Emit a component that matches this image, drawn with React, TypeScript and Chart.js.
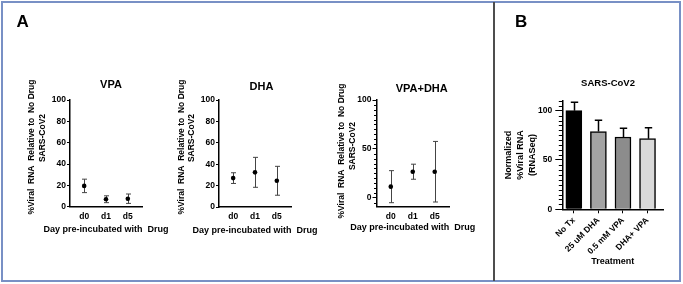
import React, { useEffect, useRef } from 'react';
import { Chart, registerables } from 'chart.js';

Chart.register(...registerables);

const W = 683;
const H = 284;
const FAMILY = '"Liberation Sans", Arial, Helvetica, sans-serif';

// ---- Panel A data ----
const dayLabels = ['d0', 'd1', 'd5'];
const vpaMean = [19.5, 7, 7.5];
const vpaSd = [6.3, 3.2, 4.4];
const dhaMean = [27, 32.4, 24.5];
const dhaSd = [5, 14, 13.5];
const comboMean = [11.3, 26.6, 26.6];
const comboSd = [16.4, 7.7, 31];

const pctTicks = [0, 20, 40, 60, 80, 100];
const comboTicks = [0, 50, 100];
const comboMinorTicks = [-5, 5, 10, 15, 20, 25, 30, 35, 40, 45, 55, 60, 65, 70, 75, 80, 85, 90, 95];

// ---- Panel B data ----
const treatments = ['No Tx', '25 uM DHA', '0.5 mM VPA', 'DHA+ VPA'];
const rnaSeqMean = [100, 78.8, 73.3, 71.6];
const rnaSeqSd = [8.5, 11.5, 8.9, 11.2];
const rnaSeqFill = ['#000000', '#a3a3a3', '#8c8c8c', '#d9d9d9'];
const rnaTicks = [0, 50, 100];
const rnaMinorTicks = [5, 10, 15, 20, 25, 30, 35, 40, 45, 55, 60, 65, 70, 75, 80, 85, 90, 95, 105, 110];

const yTitleA1 = '%Viral  RNA  Relative to  No Drug';
const yTitleA2 = 'SARS-CoV2';
const xTitleA = 'Day pre-incubated with  Drug';

const font = (size: number, lineHeight?: number) => ({ family: FAMILY, size, weight: 'bold' as const, lineHeight: lineHeight || 1.2 });

const textPlugin = {
  id: 'panelText',
  afterDraw(chart: any, _a: any, o: any) {
    if (!o || !o.items) return;
    const ctx = chart.ctx;
    for (const t of o.items) {
      ctx.save();
      ctx.font = `bold ${t.size}px ${FAMILY}`;
      ctx.fillStyle = '#000';
      ctx.textAlign = t.align || 'center';
      ctx.textBaseline = t.baseline || 'middle';
      ctx.translate(t.x, t.y);
      if (t.rotate) ctx.rotate(t.rotate);
      ctx.fillText(t.text, 0, 0);
      ctx.restore();
    }
  },
};

function drawErr(chart: any, o: any) {
  const { ctx, scales } = chart;
  const x = scales.x;
  const y = scales.y;
  ctx.save();
  ctx.strokeStyle = o.color;
  ctx.lineWidth = o.width;
  o.means.forEach((m: number, i: number) => {
    const px = Math.round(x.getPixelForValue(i)) + 0.5;
    const top = y.getPixelForValue(m + o.sds[i]);
    const bot = y.getPixelForValue(o.upOnly ? m : m - o.sds[i]);
    ctx.beginPath();
    ctx.moveTo(px, top);
    ctx.lineTo(px, bot);
    ctx.moveTo(px - o.cap, top);
    ctx.lineTo(px + o.cap, top);
    if (!o.upOnly) {
      ctx.moveTo(px - o.cap, bot);
      ctx.lineTo(px + o.cap, bot);
    }
    ctx.stroke();
  });
  ctx.restore();
}

const errorBarPlugin = {
  id: 'errorBars',
  beforeDatasetsDraw(chart: any, _a: any, o: any) {
    if (o && o.means && !o.above) drawErr(chart, o);
  },
  afterDatasetsDraw(chart: any, _a: any, o: any) {
    if (o && o.means && o.above) drawErr(chart, o);
  },
};

const minorTickPlugin = {
  id: 'minorTicks',
  afterDraw(chart: any, _a: any, o: any) {
    if (!o || !o.values) return;
    const { ctx, chartArea, scales } = chart;
    const y = scales.y;
    ctx.save();
    ctx.strokeStyle = '#000';
    ctx.lineWidth = 1;
    ctx.beginPath();
    for (const v of o.values) {
      const py = Math.round(y.getPixelForValue(v)) + 0.5;
      ctx.moveTo(chartArea.left - o.length, py);
      ctx.lineTo(chartArea.left, py);
    }
    ctx.stroke();
    ctx.restore();
  },
};

interface DaySpec {
  means: number[];
  sds: number[];
  yTicks: number[];
  yMin: number;
  yMax: number;
  left: number;
  right: number;
  top: number;
  bottom: number;
  yWidth: number;
  tickLen: number;
  minor?: number[];
  title: { text: string; x: number; y: number };
  yTitle1: { x: number; y: number };
  yTitle2: { x: number; y: number };
  xTitleY: number;
  extra?: any[];
}

function dayConfig(s: DaySpec): any {
  const xH = 30;
  const texts = [
    ...(s.extra || []),
    { text: s.title.text, x: s.title.x, y: s.title.y, size: 11 },
    { text: yTitleA1, x: s.yTitle1.x, y: s.yTitle1.y, size: 8.5, rotate: -Math.PI / 2 },
    { text: yTitleA2, x: s.yTitle2.x, y: s.yTitle2.y, size: 8.5, rotate: -Math.PI / 2 },
    { text: xTitleA, x: (s.left + s.right) / 2, y: s.xTitleY, size: 9 },
  ];
  return {
    type: 'scatter',
    data: {
      datasets: [
        {
          data: s.means.map((m, i) => ({ x: i, y: m })),
          pointRadius: 2.3,
          pointBackgroundColor: '#000',
          pointBorderColor: '#000',
          pointBorderWidth: 0,
        },
      ],
    },
    plugins: [textPlugin, errorBarPlugin, minorTickPlugin],
    options: {
      responsive: false,
      animation: false,
      devicePixelRatio: 1,
      events: [],
      layout: {
        padding: { left: s.left - s.yWidth, top: s.top, right: W - s.right, bottom: H - s.bottom - xH },
      },
      plugins: {
        legend: { display: false },
        tooltip: { enabled: false },
        title: { display: false },
        panelText: { items: texts },
        errorBars: { means: s.means, sds: s.sds, color: '#444', width: 1, cap: 2.5, above: false },
        minorTicks: s.minor ? { values: s.minor, length: 2.5 } : {},
      },
      scales: {
        x: {
          type: 'linear',
          min: -0.65,
          max: 2.65,
          afterBuildTicks: (sc: any) => {
            sc.ticks = dayLabels.map((_, i) => ({ value: i }));
          },
          afterFit: (sc: any) => {
            sc.height = xH;
          },
          grid: { display: false, drawTicks: false },
          border: { display: true, color: '#000', width: 1.5 },
          ticks: {
            callback: (v: number) => dayLabels[v],
            font: font(8.5),
            color: '#000',
            padding: 5,
            maxRotation: 0,
            minRotation: 0,
            autoSkip: false,
          },
          title: { display: false },
        },
        y: {
          type: 'linear',
          min: s.yMin,
          max: s.yMax,
          afterBuildTicks: (sc: any) => {
            sc.ticks = s.yTicks.map((v) => ({ value: v }));
          },
          afterFit: (sc: any) => {
            sc.width = s.yWidth;
          },
          grid: { display: true, drawOnChartArea: false, drawTicks: true, tickLength: s.tickLen, color: '#000', lineWidth: 1 },
          border: { display: true, color: '#000', width: 1.5 },
          ticks: { font: font(8.5), color: '#000', padding: 1, callback: (v: number) => String(v), autoSkip: false },
          title: { display: false },
        },
      },
    },
  };
}

function rnaConfig(): any {
  const left = 562.3;
  const right = 663;
  const top = 100.8;
  const bottom = 209.3;
  const yWidth = 67.3;
  const xH = 60;
  return {
    type: 'bar',
    data: {
      datasets: [
        {
          data: rnaSeqMean.map((m, i) => ({ x: i, y: m })),
          backgroundColor: rnaSeqFill,
          borderColor: '#000',
          borderWidth: 1.5,
          barThickness: 16,
        },
      ],
    },
    plugins: [textPlugin, errorBarPlugin, minorTickPlugin],
    options: {
      responsive: false,
      animation: false,
      devicePixelRatio: 1,
      events: [],
      layout: { padding: { left: left - yWidth, top, right: W - right, bottom: H - bottom - xH } },
      plugins: {
        legend: { display: false },
        tooltip: { enabled: false },
        title: { display: false },
        panelText: {
          items: [
            { text: 'B', x: 515, y: 27, size: 17, align: 'left', baseline: 'alphabetic' },
            { text: 'SARS-CoV2', x: 608, y: 83, size: 9.5 },
          ],
        },
        errorBars: { means: rnaSeqMean, sds: rnaSeqSd, color: '#000', width: 1.5, cap: 3.7, above: true, upOnly: true },
        minorTicks: { values: rnaMinorTicks, length: 3.5 },
      },
      scales: {
        x: {
          type: 'linear',
          min: -0.47,
          max: 3.63,
          offset: false,
          afterBuildTicks: (sc: any) => {
            sc.ticks = treatments.map((_, i) => ({ value: i }));
          },
          afterFit: (sc: any) => {
            sc.height = xH;
          },
          grid: { display: true, offset: false, drawOnChartArea: false, drawTicks: true, tickLength: 4, color: '#000', lineWidth: 1 },
          border: { display: true, color: '#000', width: 1.5 },
          ticks: {
            callback: (v: number) => treatments[v],
            font: font(8.5),
            color: '#000',
            padding: 2,
            maxRotation: 45,
            minRotation: 45,
            autoSkip: false,
          },
          title: { display: true, text: 'Treatment', font: font(9), color: '#000', padding: { top: 0, bottom: 1.9 } },
        },
        y: {
          type: 'linear',
          min: 0,
          max: 110,
          afterBuildTicks: (sc: any) => {
            sc.ticks = rnaTicks.map((v) => ({ value: v }));
          },
          afterFit: (sc: any) => {
            sc.width = yWidth;
          },
          grid: { display: true, drawOnChartArea: false, drawTicks: true, tickLength: 7, color: '#000', lineWidth: 1 },
          border: { display: true, color: '#000', width: 1.5 },
          ticks: { font: font(8.5), color: '#000', padding: 3, callback: (v: number) => String(v), autoSkip: false },
          title: {
            display: true,
            text: ['Normalized', '%Viral RNA', '(RNASeq)'],
            font: font(9, 1.3),
            color: '#000',
            padding: { top: 8.1, bottom: 0 },
          },
        },
      },
    },
  };
}

export default function App() {
  const r1 = useRef<HTMLCanvasElement>(null);
  const r2 = useRef<HTMLCanvasElement>(null);
  const r3 = useRef<HTMLCanvasElement>(null);
  const r4 = useRef<HTMLCanvasElement>(null);

  useEffect(() => {
    const charts: Chart[] = [];
    const c1 = dayConfig({
      means: vpaMean, sds: vpaSd, yTicks: pctTicks, yMin: 0, yMax: 100,
      left: 70, right: 142, top: 100, bottom: 206.7, yWidth: 45, tickLen: 3,
      title: { text: 'VPA', x: 111, y: 85 },
      yTitle1: { x: 32, y: 147 },
      yTitle2: { x: 42.5, y: 138 },
      xTitleY: 230,
      extra: [{ text: 'A', x: 16.5, y: 27, size: 17, align: 'left', baseline: 'alphabetic' }],
    });
    const c2 = dayConfig({
      means: dhaMean, sds: dhaSd, yTicks: pctTicks, yMin: 0, yMax: 100,
      left: 219, right: 291, top: 100, bottom: 207, yWidth: 45, tickLen: 3,
      title: { text: 'DHA', x: 261.5, y: 87 },
      yTitle1: { x: 181.5, y: 147 },
      yTitle2: { x: 192, y: 138 },
      xTitleY: 231,
    });
    const c3 = dayConfig({
      means: comboMean, sds: comboSd, yTicks: comboTicks, yMin: -9.2, yMax: 100,
      left: 376.5, right: 449, top: 100, bottom: 206.7, yWidth: 45, tickLen: 4,
      minor: comboMinorTicks,
      title: { text: 'VPA+DHA', x: 421.7, y: 89 },
      yTitle1: { x: 342, y: 151 },
      yTitle2: { x: 353, y: 146 },
      xTitleY: 228,
    });
    const refs = [r1, r2, r3, r4];
    const cfgs = [c1, c2, c3, rnaConfig()];
    refs.forEach((r, i) => {
      if (r.current) charts.push(new Chart(r.current, cfgs[i]));
    });
    return () => charts.forEach((c) => c.destroy());
  }, []);

  const canvasStyle: React.CSSProperties = { position: 'absolute', left: 0, top: 0, display: 'block' };

  return (
    <div style={{ position: 'fixed', left: 0, top: 0, width: W, height: H, background: '#fff', overflow: 'hidden' }}>
      <div
        style={{
          position: 'absolute', left: 1, top: 1, width: 680, height: 281,
          border: '2px solid #7890c5', boxSizing: 'border-box',
        }}
      />
      <div style={{ position: 'absolute', left: 493, top: 2, width: 2, height: 279, background: '#4d4d4d' }} />
      <canvas ref={r1} width={W} height={H} style={canvasStyle} />
      <canvas ref={r2} width={W} height={H} style={canvasStyle} />
      <canvas ref={r3} width={W} height={H} style={canvasStyle} />
      <canvas ref={r4} width={W} height={H} style={canvasStyle} />
    </div>
  );
}
